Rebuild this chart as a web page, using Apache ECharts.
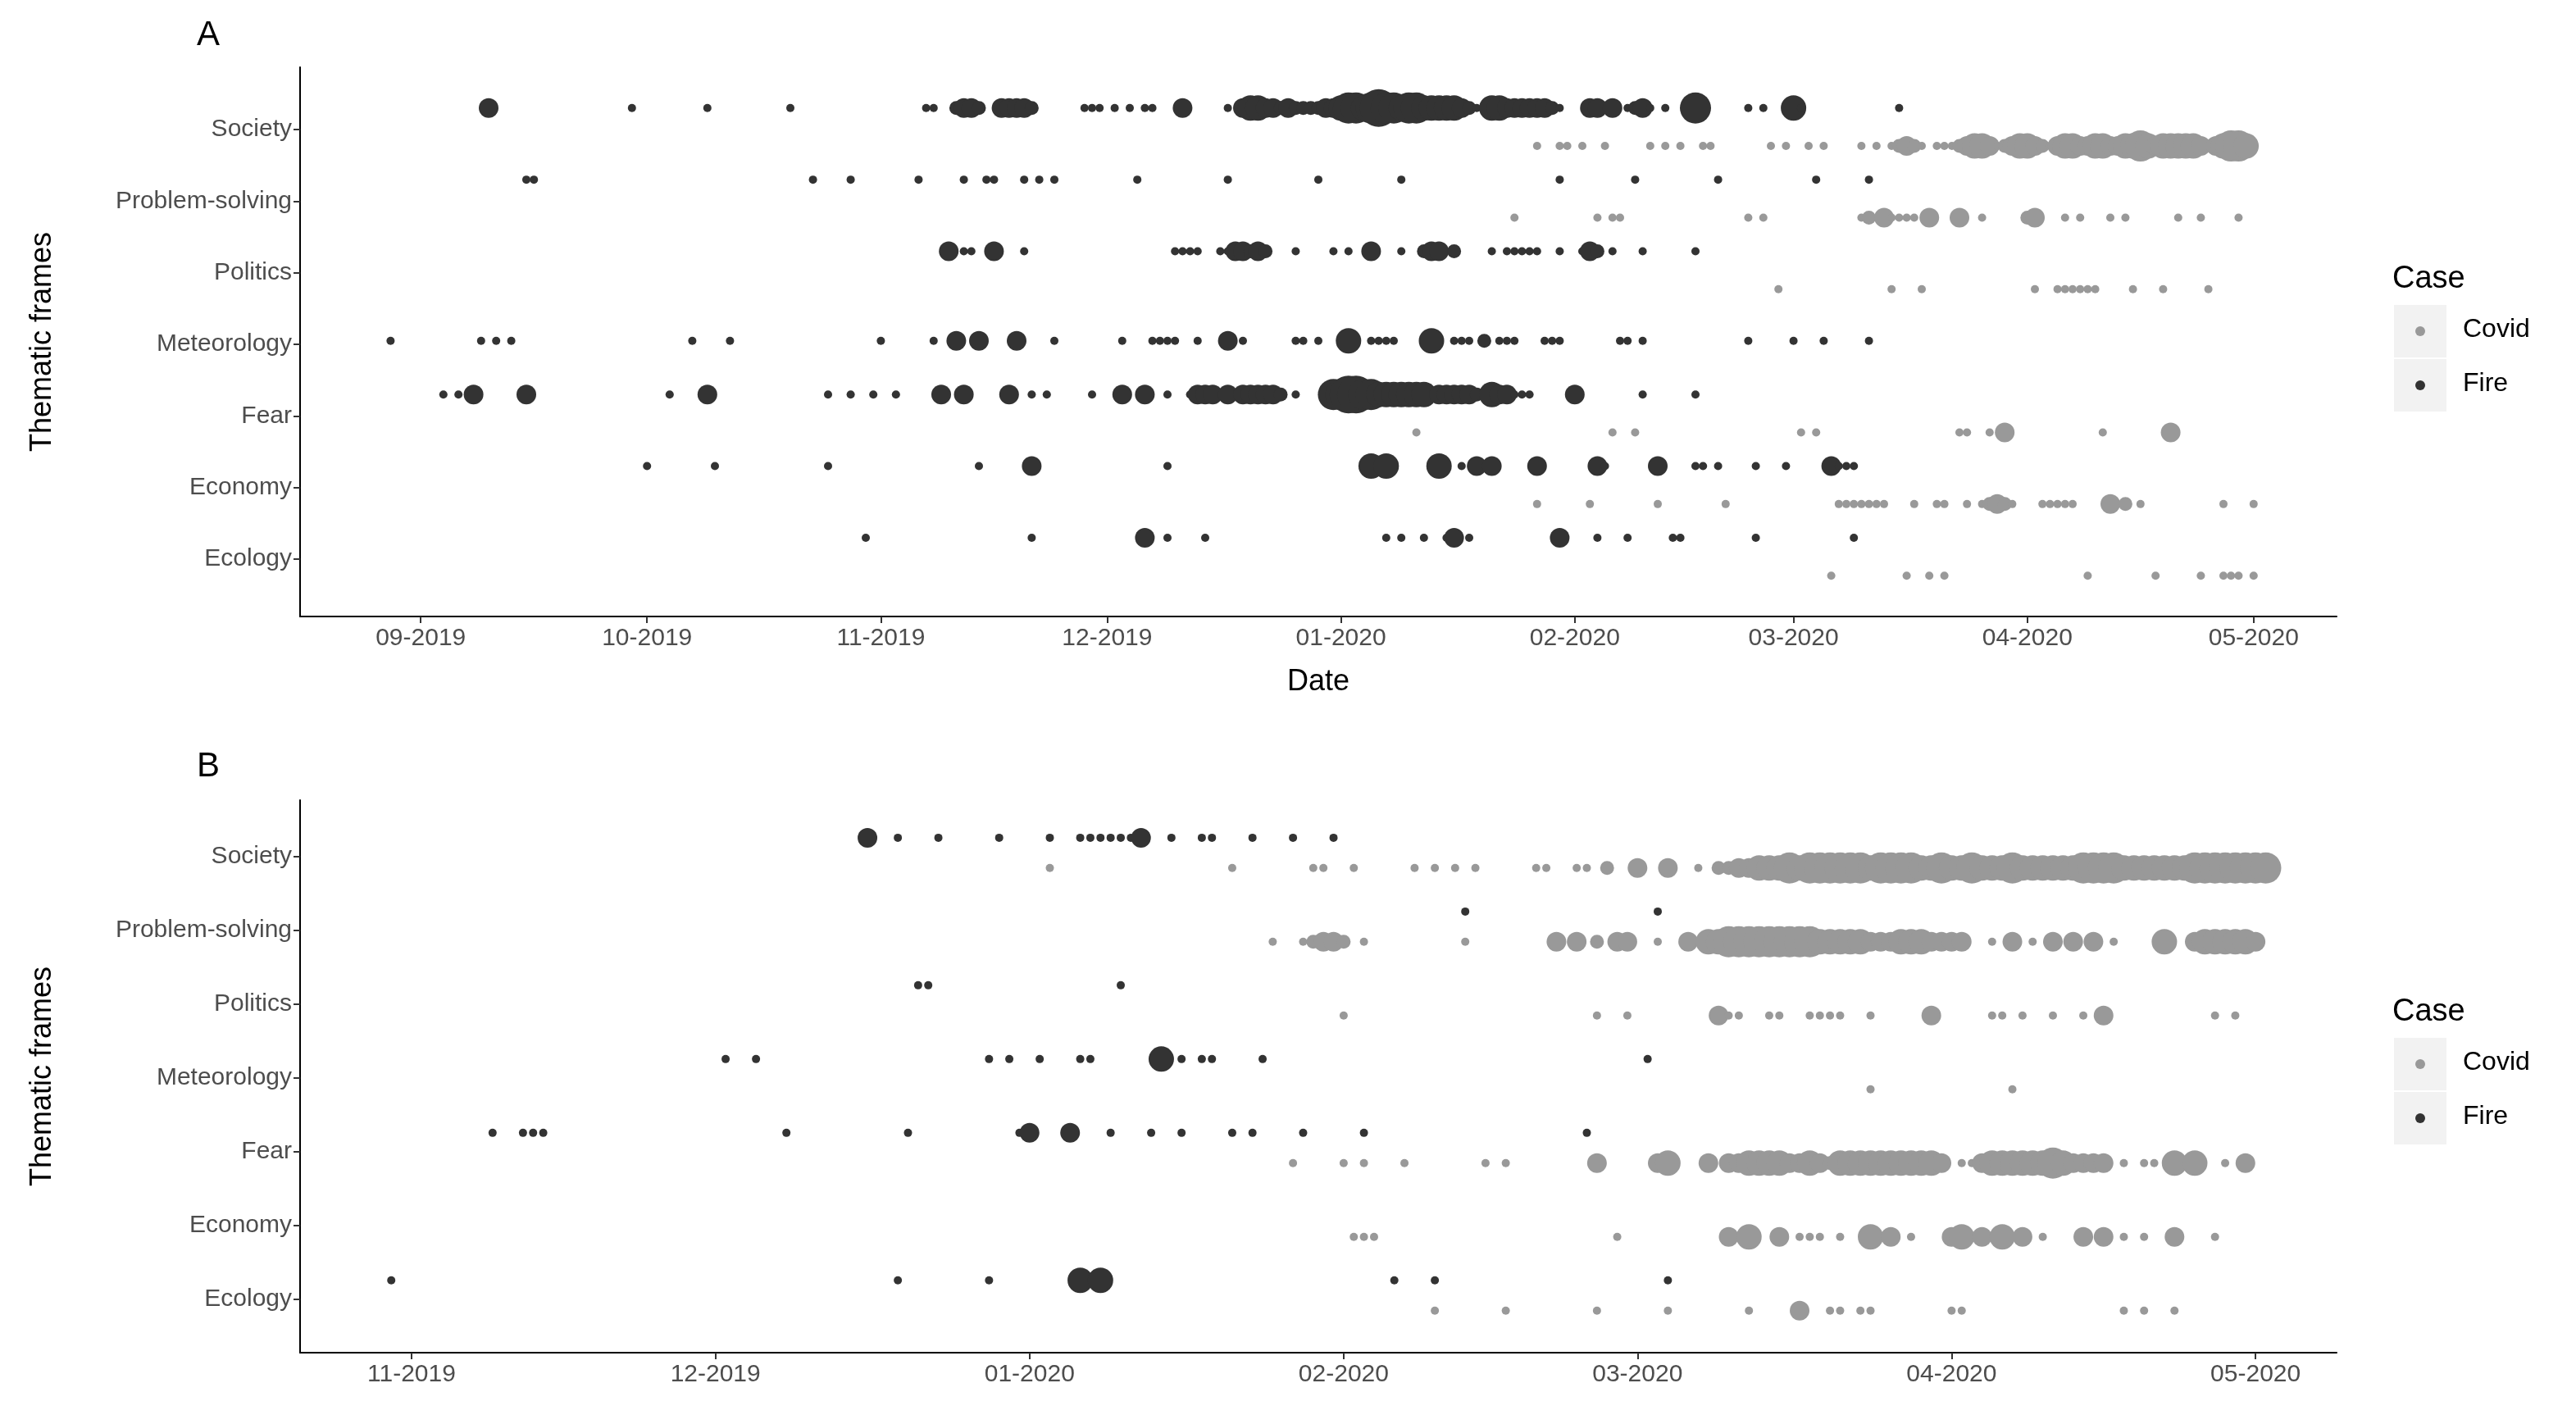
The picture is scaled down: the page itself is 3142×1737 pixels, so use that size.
<!DOCTYPE html>
<html><head><meta charset="utf-8">
<script src="https://cdn.jsdelivr.net/npm/echarts@6/dist/echarts.min.js"></script>
<style>html,body{margin:0;padding:0;background:#fff}#c{width:3142px;height:1737px}</style>
</head><body><div id="c"></div>
<script>
const categories = ['Ecology','Economy','Fear','Meteorology','Politics','Problem-solving','Society'];
const monthTicksA = ['2019-09-01','2019-10-01','2019-11-01','2019-12-01','2020-01-01','2020-02-01','2020-03-01','2020-04-01','2020-05-01'];
const monthTicksB = ['2019-11-01','2019-12-01','2020-01-01','2020-02-01','2020-03-01','2020-04-01','2020-05-01'];

// Panel A, Fire: [category, [[date, size], ...]]
const aFire = [
 ['Society', [['2019-09-10',3],['2019-09-29',1],['2019-10-09',1],['2019-10-20',1],['2019-11-07',1],['2019-11-08',1],['2019-11-11',2],['2019-11-12',3],['2019-11-13',3],['2019-11-14',2],['2019-11-17',3],['2019-11-18',3],['2019-11-19',3],['2019-11-20',3],['2019-11-21',2],['2019-11-28',1],['2019-11-29',1],['2019-11-30',1],['2019-12-02',1],['2019-12-04',1],['2019-12-06',1],['2019-12-07',1],['2019-12-11',3],['2019-12-17',1],['2019-12-19',3],['2019-12-20',4],['2019-12-21',4],['2019-12-22',3],['2019-12-23',3],['2019-12-24',2],['2019-12-25',3],['2019-12-26',2],['2019-12-27',2],['2019-12-28',2],['2019-12-29',2],['2019-12-30',3],['2019-12-31',3],['2020-01-01',4],['2020-01-02',5],['2020-01-03',5],['2020-01-04',4],['2020-01-05',5],['2020-01-06',6],['2020-01-07',5],['2020-01-08',5],['2020-01-09',4],['2020-01-10',5],['2020-01-11',5],['2020-01-12',4],['2020-01-13',4],['2020-01-14',4],['2020-01-15',4],['2020-01-16',4],['2020-01-17',3],['2020-01-18',2],['2020-01-19',1],['2020-01-21',4],['2020-01-22',4],['2020-01-23',3],['2020-01-24',3],['2020-01-25',3],['2020-01-26',3],['2020-01-27',3],['2020-01-28',3],['2020-01-29',2],['2020-01-30',1],['2020-02-03',3],['2020-02-04',3],['2020-02-06',3],['2020-02-08',1],['2020-02-09',2],['2020-02-10',3],['2020-02-11',1],['2020-02-13',1],['2020-02-17',5],['2020-02-24',1],['2020-02-26',1],['2020-03-01',4],['2020-03-02',1],['2020-03-15',1]]],
 ['Problem-solving', [['2019-09-15',1],['2019-09-16',1],['2019-10-23',1],['2019-10-28',1],['2019-11-06',1],['2019-11-12',1],['2019-11-15',1],['2019-11-16',1],['2019-11-20',1],['2019-11-22',1],['2019-11-24',1],['2019-12-05',1],['2019-12-17',1],['2019-12-29',1],['2020-01-09',1],['2020-01-30',1],['2020-02-09',1],['2020-02-20',1],['2020-03-04',1],['2020-03-11',1]]],
 ['Politics', [['2019-11-10',3],['2019-11-12',1],['2019-11-13',1],['2019-11-16',3],['2019-11-20',1],['2019-12-10',1],['2019-12-11',1],['2019-12-12',1],['2019-12-13',1],['2019-12-16',1],['2019-12-17',1],['2019-12-18',3],['2019-12-19',3],['2019-12-20',2],['2019-12-21',3],['2019-12-22',2],['2019-12-26',1],['2019-12-31',1],['2020-01-02',1],['2020-01-05',3],['2020-01-09',1],['2020-01-12',2],['2020-01-13',3],['2020-01-14',3],['2020-01-16',2],['2020-01-21',1],['2020-01-23',1],['2020-01-24',1],['2020-01-25',1],['2020-01-26',1],['2020-01-27',1],['2020-01-30',1],['2020-02-02',1],['2020-02-03',3],['2020-02-04',2],['2020-02-06',1],['2020-02-10',1],['2020-02-17',1]]],
 ['Meteorology', [['2019-08-28',1],['2019-09-09',1],['2019-09-11',1],['2019-09-13',1],['2019-10-07',1],['2019-10-12',1],['2019-11-01',1],['2019-11-08',1],['2019-11-11',3],['2019-11-14',3],['2019-11-19',3],['2019-11-24',1],['2019-12-03',1],['2019-12-07',1],['2019-12-08',1],['2019-12-09',1],['2019-12-10',1],['2019-12-13',1],['2019-12-17',3],['2019-12-19',1],['2019-12-26',1],['2019-12-27',1],['2019-12-29',1],['2020-01-02',4],['2020-01-05',1],['2020-01-06',1],['2020-01-07',1],['2020-01-08',1],['2020-01-13',4],['2020-01-16',1],['2020-01-17',1],['2020-01-18',1],['2020-01-20',2],['2020-01-22',1],['2020-01-23',1],['2020-01-24',1],['2020-01-28',1],['2020-01-29',1],['2020-01-30',1],['2020-02-07',1],['2020-02-08',1],['2020-02-10',1],['2020-02-24',1],['2020-03-01',1],['2020-03-05',1],['2020-03-11',1]]],
 ['Fear', [['2019-09-04',1],['2019-09-06',1],['2019-09-08',3],['2019-09-15',3],['2019-10-04',1],['2019-10-09',3],['2019-10-25',1],['2019-10-28',1],['2019-10-31',1],['2019-11-03',1],['2019-11-09',3],['2019-11-12',3],['2019-11-18',3],['2019-11-21',1],['2019-11-23',1],['2019-11-29',1],['2019-12-03',3],['2019-12-06',3],['2019-12-09',1],['2019-12-12',1],['2019-12-13',3],['2019-12-14',3],['2019-12-15',3],['2019-12-17',3],['2019-12-19',3],['2019-12-20',3],['2019-12-21',3],['2019-12-22',3],['2019-12-23',3],['2019-12-24',2],['2019-12-26',1],['2019-12-31',5],['2020-01-01',5],['2020-01-02',6],['2020-01-03',6],['2020-01-04',5],['2020-01-05',5],['2020-01-06',4],['2020-01-07',4],['2020-01-08',4],['2020-01-09',4],['2020-01-10',4],['2020-01-11',4],['2020-01-12',4],['2020-01-14',3],['2020-01-15',3],['2020-01-16',3],['2020-01-17',3],['2020-01-18',3],['2020-01-19',2],['2020-01-21',4],['2020-01-22',3],['2020-01-23',3],['2020-01-24',1],['2020-01-25',1],['2020-01-26',1],['2020-02-01',3],['2020-02-10',1],['2020-02-17',1]]],
 ['Economy', [['2019-10-01',1],['2019-10-10',1],['2019-10-25',1],['2019-11-14',1],['2019-11-21',3],['2019-12-09',1],['2020-01-05',4],['2020-01-07',4],['2020-01-14',4],['2020-01-17',1],['2020-01-19',3],['2020-01-21',3],['2020-01-27',3],['2020-02-04',3],['2020-02-05',1],['2020-02-12',3],['2020-02-17',1],['2020-02-18',1],['2020-02-20',1],['2020-02-25',1],['2020-02-29',1],['2020-03-06',3],['2020-03-07',1],['2020-03-08',1],['2020-03-09',1]]],
 ['Ecology', [['2019-10-30',1],['2019-11-21',1],['2019-12-06',3],['2019-12-09',1],['2019-12-14',1],['2020-01-07',1],['2020-01-09',1],['2020-01-12',1],['2020-01-15',1],['2020-01-16',3],['2020-01-18',1],['2020-01-30',3],['2020-02-04',1],['2020-02-08',1],['2020-02-14',1],['2020-02-15',1],['2020-02-25',1],['2020-03-09',1]]]
];

// Panel A, Covid
const aCovid = [
 ['Society', [['2020-01-27',1],['2020-01-30',1],['2020-01-31',1],['2020-02-02',1],['2020-02-05',1],['2020-02-11',1],['2020-02-13',1],['2020-02-15',1],['2020-02-18',1],['2020-02-19',1],['2020-02-27',1],['2020-02-29',1],['2020-03-03',1],['2020-03-05',1],['2020-03-10',1],['2020-03-12',1],['2020-03-14',1],['2020-03-15',2],['2020-03-16',3],['2020-03-17',2],['2020-03-18',1],['2020-03-20',1],['2020-03-21',1],['2020-03-22',1],['2020-03-23',2],['2020-03-24',3],['2020-03-25',4],['2020-03-26',4],['2020-03-27',3],['2020-03-28',1],['2020-03-29',2],['2020-03-30',3],['2020-03-31',4],['2020-04-01',4],['2020-04-02',3],['2020-04-03',2],['2020-04-04',1],['2020-04-05',3],['2020-04-06',4],['2020-04-07',4],['2020-04-08',3],['2020-04-09',3],['2020-04-10',4],['2020-04-11',4],['2020-04-12',3],['2020-04-13',3],['2020-04-14',4],['2020-04-15',4],['2020-04-16',5],['2020-04-17',4],['2020-04-18',3],['2020-04-19',4],['2020-04-20',4],['2020-04-21',4],['2020-04-22',4],['2020-04-23',4],['2020-04-24',3],['2020-04-26',3],['2020-04-27',4],['2020-04-28',5],['2020-04-29',5],['2020-04-30',4]]],
 ['Problem-solving', [['2020-01-24',1],['2020-02-04',1],['2020-02-06',1],['2020-02-07',1],['2020-02-24',1],['2020-02-26',1],['2020-03-10',1],['2020-03-11',2],['2020-03-13',3],['2020-03-14',1],['2020-03-15',1],['2020-03-16',1],['2020-03-17',1],['2020-03-19',3],['2020-03-23',3],['2020-03-26',1],['2020-04-01',2],['2020-04-02',3],['2020-04-06',1],['2020-04-08',1],['2020-04-12',1],['2020-04-14',1],['2020-04-21',1],['2020-04-24',1],['2020-04-29',1]]],
 ['Politics', [['2020-02-28',1],['2020-03-14',1],['2020-03-18',1],['2020-04-02',1],['2020-04-05',1],['2020-04-06',1],['2020-04-07',1],['2020-04-08',1],['2020-04-09',1],['2020-04-10',1],['2020-04-15',1],['2020-04-19',1],['2020-04-25',1]]],
 ['Fear', [['2020-01-11',1],['2020-02-06',1],['2020-02-09',1],['2020-03-02',1],['2020-03-04',1],['2020-03-23',1],['2020-03-24',1],['2020-03-27',1],['2020-03-29',3],['2020-04-11',1],['2020-04-20',3]]],
 ['Economy', [['2020-01-27',1],['2020-02-03',1],['2020-02-12',1],['2020-02-21',1],['2020-03-07',1],['2020-03-08',1],['2020-03-09',1],['2020-03-10',1],['2020-03-11',1],['2020-03-12',1],['2020-03-13',1],['2020-03-17',1],['2020-03-20',1],['2020-03-21',1],['2020-03-24',1],['2020-03-26',1],['2020-03-27',2],['2020-03-28',3],['2020-03-29',2],['2020-03-30',1],['2020-04-03',1],['2020-04-04',1],['2020-04-05',1],['2020-04-06',1],['2020-04-07',1],['2020-04-12',3],['2020-04-14',2],['2020-04-16',1],['2020-04-27',1],['2020-05-01',1]]],
 ['Ecology', [['2020-03-06',1],['2020-03-16',1],['2020-03-19',1],['2020-03-21',1],['2020-04-09',1],['2020-04-18',1],['2020-04-24',1],['2020-04-27',1],['2020-04-28',1],['2020-04-29',1],['2020-05-01',1]]]
];

// Panel B, Fire
const bFire = [
 ['Society', [['2019-12-16',3],['2019-12-19',1],['2019-12-23',1],['2019-12-29',1],['2020-01-03',1],['2020-01-06',1],['2020-01-07',1],['2020-01-08',1],['2020-01-09',1],['2020-01-10',1],['2020-01-11',1],['2020-01-12',3],['2020-01-15',1],['2020-01-18',1],['2020-01-19',1],['2020-01-23',1],['2020-01-27',1],['2020-01-31',1]]],
 ['Problem-solving', [['2020-02-13',1],['2020-03-03',1]]],
 ['Politics', [['2019-12-21',1],['2019-12-22',1],['2020-01-10',1]]],
 ['Meteorology', [['2019-12-02',1],['2019-12-05',1],['2019-12-28',1],['2019-12-30',1],['2020-01-02',1],['2020-01-06',1],['2020-01-07',1],['2020-01-14',4],['2020-01-16',1],['2020-01-18',1],['2020-01-19',1],['2020-01-24',1],['2020-03-02',1]]],
 ['Fear', [['2019-11-09',1],['2019-11-12',1],['2019-11-13',1],['2019-11-14',1],['2019-12-08',1],['2019-12-20',1],['2019-12-31',1],['2020-01-01',3],['2020-01-05',3],['2020-01-09',1],['2020-01-13',1],['2020-01-16',1],['2020-01-21',1],['2020-01-23',1],['2020-01-28',1],['2020-02-03',1],['2020-02-25',1]]],
 ['Ecology', [['2019-10-30',1],['2019-12-19',1],['2019-12-28',1],['2020-01-06',4],['2020-01-08',4],['2020-02-06',1],['2020-02-10',1],['2020-03-04',1]]]
];

// Panel B, Covid
const bCovid = [
 ['Society', [['2020-01-03',1],['2020-01-21',1],['2020-01-29',1],['2020-01-30',1],['2020-02-02',1],['2020-02-08',1],['2020-02-10',1],['2020-02-12',1],['2020-02-14',1],['2020-02-20',1],['2020-02-21',1],['2020-02-24',1],['2020-02-25',1],['2020-02-27',2],['2020-03-01',3],['2020-03-04',3],['2020-03-07',1],['2020-03-09',2],['2020-03-10',2],['2020-03-11',3],['2020-03-12',3],['2020-03-13',4],['2020-03-14',4],['2020-03-15',4],['2020-03-16',5],['2020-03-17',4],['2020-03-18',5],['2020-03-19',5],['2020-03-20',5],['2020-03-21',5],['2020-03-22',5],['2020-03-23',5],['2020-03-24',4],['2020-03-25',5],['2020-03-26',5],['2020-03-27',5],['2020-03-28',5],['2020-03-29',4],['2020-03-30',4],['2020-03-31',5],['2020-04-01',4],['2020-04-02',4],['2020-04-03',5],['2020-04-04',4],['2020-04-05',4],['2020-04-06',4],['2020-04-07',5],['2020-04-08',4],['2020-04-09',4],['2020-04-10',4],['2020-04-11',4],['2020-04-12',4],['2020-04-13',4],['2020-04-14',5],['2020-04-15',5],['2020-04-16',5],['2020-04-17',5],['2020-04-18',4],['2020-04-19',4],['2020-04-20',4],['2020-04-21',4],['2020-04-22',4],['2020-04-23',4],['2020-04-24',4],['2020-04-25',5],['2020-04-26',5],['2020-04-27',5],['2020-04-28',5],['2020-04-29',5],['2020-04-30',5],['2020-05-01',5],['2020-05-02',5]]],
 ['Problem-solving', [['2020-01-25',1],['2020-01-28',1],['2020-01-29',2],['2020-01-30',3],['2020-01-31',3],['2020-02-01',2],['2020-02-03',1],['2020-02-13',1],['2020-02-22',3],['2020-02-24',3],['2020-02-26',2],['2020-02-28',3],['2020-02-29',3],['2020-03-03',1],['2020-03-06',3],['2020-03-08',4],['2020-03-09',4],['2020-03-10',5],['2020-03-11',5],['2020-03-12',5],['2020-03-13',5],['2020-03-14',5],['2020-03-15',5],['2020-03-16',5],['2020-03-17',5],['2020-03-18',5],['2020-03-19',4],['2020-03-20',4],['2020-03-21',4],['2020-03-22',4],['2020-03-23',4],['2020-03-24',3],['2020-03-25',3],['2020-03-26',3],['2020-03-27',4],['2020-03-28',4],['2020-03-29',4],['2020-03-30',3],['2020-03-31',3],['2020-04-01',3],['2020-04-02',3],['2020-04-05',1],['2020-04-07',3],['2020-04-09',1],['2020-04-11',3],['2020-04-13',3],['2020-04-15',3],['2020-04-17',1],['2020-04-22',4],['2020-04-25',3],['2020-04-26',4],['2020-04-27',4],['2020-04-28',4],['2020-04-29',4],['2020-04-30',4],['2020-05-01',3]]],
 ['Politics', [['2020-02-01',1],['2020-02-26',1],['2020-02-29',1],['2020-03-09',3],['2020-03-10',1],['2020-03-11',1],['2020-03-14',1],['2020-03-15',1],['2020-03-18',1],['2020-03-19',1],['2020-03-20',1],['2020-03-21',1],['2020-03-24',1],['2020-03-30',3],['2020-04-05',1],['2020-04-06',1],['2020-04-08',1],['2020-04-11',1],['2020-04-14',1],['2020-04-16',3],['2020-04-27',1],['2020-04-29',1]]],
 ['Meteorology', [['2020-03-24',1],['2020-04-07',1]]],
 ['Fear', [['2020-01-27',1],['2020-02-01',1],['2020-02-03',1],['2020-02-07',1],['2020-02-15',1],['2020-02-17',1],['2020-02-26',3],['2020-03-03',3],['2020-03-04',4],['2020-03-08',3],['2020-03-10',3],['2020-03-11',3],['2020-03-12',4],['2020-03-13',4],['2020-03-14',4],['2020-03-15',4],['2020-03-16',3],['2020-03-17',3],['2020-03-18',4],['2020-03-19',3],['2020-03-20',2],['2020-03-21',4],['2020-03-22',4],['2020-03-23',4],['2020-03-24',4],['2020-03-25',4],['2020-03-26',4],['2020-03-27',4],['2020-03-28',4],['2020-03-29',4],['2020-03-30',4],['2020-03-31',3],['2020-04-02',1],['2020-04-03',1],['2020-04-04',3],['2020-04-05',4],['2020-04-06',4],['2020-04-07',4],['2020-04-08',4],['2020-04-09',4],['2020-04-10',4],['2020-04-11',5],['2020-04-12',4],['2020-04-13',3],['2020-04-14',3],['2020-04-15',3],['2020-04-16',3],['2020-04-18',1],['2020-04-20',1],['2020-04-21',1],['2020-04-23',4],['2020-04-25',4],['2020-04-28',1],['2020-04-30',3]]],
 ['Economy', [['2020-02-02',1],['2020-02-03',1],['2020-02-04',1],['2020-02-28',1],['2020-03-10',3],['2020-03-12',4],['2020-03-15',3],['2020-03-17',1],['2020-03-18',1],['2020-03-19',1],['2020-03-21',1],['2020-03-24',4],['2020-03-26',3],['2020-03-28',1],['2020-04-01',3],['2020-04-02',4],['2020-04-04',3],['2020-04-06',4],['2020-04-08',3],['2020-04-10',1],['2020-04-14',3],['2020-04-16',3],['2020-04-18',1],['2020-04-20',1],['2020-04-23',3],['2020-04-27',1]]],
 ['Ecology', [['2020-02-10',1],['2020-02-17',1],['2020-02-26',1],['2020-03-04',1],['2020-03-12',1],['2020-03-17',3],['2020-03-20',1],['2020-03-21',1],['2020-03-23',1],['2020-03-24',1],['2020-04-01',1],['2020-04-02',1],['2020-04-18',1],['2020-04-20',1],['2020-04-23',1]]]
];

const dotSizes = [0, 10, 17, 24, 31, 38, 46];
const FIRE = '#333333', COVID = '#999999';

function ts(s){ const p = s.split('-').map(Number); return +new Date(p[0], p[1]-1, p[2]); }
function toPoints(rows, shift, specialShift) {
  const out = [];
  rows.forEach(([cat, pts]) => {
    const base = categories.indexOf(cat);
    const s = (specialShift && specialShift[cat] !== undefined) ? specialShift[cat] : shift;
    pts.forEach(([d, n]) => out.push([ts(d), base + s, n]));
  });
  return out;
}
function monthFmt(v){ const d = new Date(v); return String(d.getMonth()+1).padStart(2,'0') + '-' + d.getFullYear(); }

const labelStyle = { color: '#4d4d4d', fontSize: 30, fontFamily: 'Liberation Sans, Arial' };
function xAxis(grid, ticks, min, max, name) {
  const vals = ticks.map(ts);
  return {
    type: 'value', gridIndex: grid, min: ts(min), max: ts(max), scale: true,
    name: name, nameLocation: 'middle', nameGap: 62,
    nameTextStyle: { color: '#000', fontSize: 36, fontFamily: 'Liberation Sans, Arial' },
    axisLine: { show: true, onZero: false, lineStyle: { color: '#000', width: 2 } },
    axisTick: { show: true, length: 8, lineStyle: { color: '#333', width: 2 }, customValues: vals },
    axisLabel: Object.assign({ formatter: monthFmt, customValues: vals, margin: 12 }, labelStyle),
    splitLine: { show: false }
  };
}
function yAxis(grid, min, max) {
  const vals = [0,1,2,3,4,5,6];
  return {
    type: 'value', gridIndex: grid, min: min, max: max,
    name: 'Thematic frames', nameLocation: 'middle', nameGap: 296, nameRotate: 90,
    nameTextStyle: { color: '#000', fontSize: 36, fontFamily: 'Liberation Sans, Arial' },
    axisLine: { show: true, onZero: false, lineStyle: { color: '#000', width: 2 } },
    axisTick: { show: true, length: 8, lineStyle: { color: '#333', width: 2 }, customValues: vals },
    axisLabel: Object.assign({ customValues: vals, margin: 10, formatter: v => categories[Math.round(v)] || '' }, labelStyle),
    splitLine: { show: false }
  };
}
function sc(name, xi, yi, data, color, z) {
  return { name: name, type: 'scatter', xAxisIndex: xi, yAxisIndex: yi, data: data, z: z,
    symbolSize: v => dotSizes[v[2]], itemStyle: { color: color, opacity: 1 }, silent: true };
}
function legendGraphic(top) {
  return [
    { type: 'text', left: 2918, top: top, style: { text: 'Case', fontSize: 38, fill: '#000', fontFamily: 'Liberation Sans, Arial' } },
    { type: 'rect', left: 2920, top: top + 50, shape: { width: 64, height: 64 }, style: { fill: '#f2f2f2' } },
    { type: 'rect', left: 2920, top: top + 116, shape: { width: 64, height: 64 }, style: { fill: '#f2f2f2' } },
    { type: 'circle', shape: { cx: 2952, cy: top + 82, r: 6 }, style: { fill: COVID } },
    { type: 'circle', shape: { cx: 2952, cy: top + 148, r: 6 }, style: { fill: FIRE } },
    { type: 'text', left: 3004, top: top + 64, style: { text: 'Covid', fontSize: 32, fill: '#000', fontFamily: 'Liberation Sans, Arial' } },
    { type: 'text', left: 3004, top: top + 130, style: { text: 'Fire', fontSize: 32, fill: '#000', fontFamily: 'Liberation Sans, Arial' } }
  ];
}

const chart = echarts.init(document.getElementById('c'), null, { renderer: 'canvas' });
chart.setOption({
  backgroundColor: '#fff',
  animation: false,
  grid: [
    { left: 366, right: 292, top: 82, height: 670 },
    { left: 366, right: 292, top: 976, height: 674 }
  ],
  xAxis: [ xAxis(0, monthTicksA, '2019-08-16', '2020-05-12', 'Date'), xAxis(1, monthTicksB, '2019-10-21', '2020-05-09', '') ],
  yAxis: [ yAxis(0, -0.8, 6.87), yAxis(1, -0.73, 6.76) ],
  series: [
    sc('Covid', 0, 0, toPoints(aCovid, -0.23), COVID, 2),
    sc('Fire', 0, 0, toPoints(aFire, 0.3, { Meteorology: 0.05 }), FIRE, 3),
    sc('Covid', 1, 1, toPoints(bCovid, -0.16), COVID, 2),
    sc('Fire', 1, 1, toPoints(bFire, 0.25), FIRE, 3)
  ],
  graphic: [
    { type: 'text', left: 240, top: 22, style: { text: 'A', fontSize: 42, fill: '#000', fontFamily: 'Liberation Sans, Arial' } },
    { type: 'text', left: 240, top: 914, style: { text: 'B', fontSize: 42, fill: '#000', fontFamily: 'Liberation Sans, Arial' } }
  ].concat(legendGraphic(322), legendGraphic(1216))
});
</script></body></html>
